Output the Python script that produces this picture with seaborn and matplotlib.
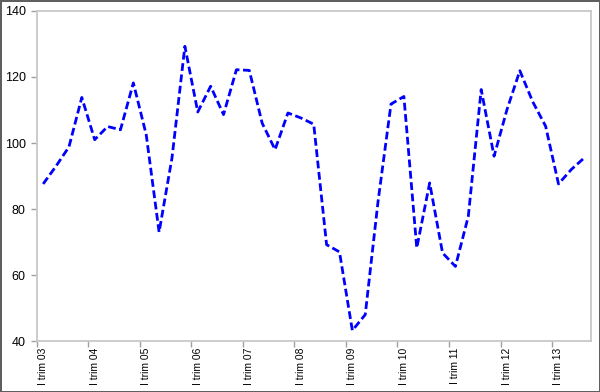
import matplotlib
matplotlib.use("Agg")
import matplotlib.pyplot as plt
import seaborn as sns
import pandas as pd
import numpy as np

years = ["03", "04", "05", "06", "07", "08", "09", "10", "11", "12", "13"]
quarter_tick_labels = ["I trim " + y for y in years]

values = [87.6, 93.0, 98.8, 113.8, 101.0, 105.0, 104.0, 118.2, 102.5, 73.0,
          95.5, 129.3, 109.4, 117.2, 108.6, 122.2, 122.0, 106.0, 98.0, 109.1,
          107.6, 105.7, 69.2, 67.0, 43.2, 48.0, 82.5, 111.8, 114.1, 68.2,
          87.9, 66.7, 62.6, 77.8, 116.2, 96.0, 110.1, 121.9, 112.5, 105.1,
          87.6, 92.0, 95.5]

df = pd.DataFrame({"q": np.arange(len(values)), "v": values})

sns.set_style("white")
plt.rcParams["font.family"] = ["Liberation Sans", "DejaVu Sans"]

fig = plt.figure(figsize=(6.0, 3.92), dpi=100)
fig.patch.set_edgecolor("#5f5f5f")
fig.patch.set_linewidth(2.0)
ax = fig.add_axes([0.0612, 0.130, 0.9233, 0.842])

sns.lineplot(data=df, x="q", y="v", ax=ax, color="#0000FF", linewidth=2.0,
             sort=False)
ax.lines[0].set_dashes((2.8, 1.3))

ax.set_xlim(-0.5, len(values) - 0.5)
ax.set_ylim(40, 140)
ax.set_yticks([40, 60, 80, 100, 120, 140])

n = len(values)
major = np.arange(-0.5, n - 0.5 + 0.01, 4)
ax.set_xticks(major)
ax.set_xticklabels([""] * len(major))
ax.set_xticks(np.arange(0, n, 4), minor=True)
ax.set_xticklabels(quarter_tick_labels, minor=True, rotation=90, fontsize=7.4,
                   va="top", color="black")
ax.tick_params(axis="x", which="major", length=4, width=1, color="#a0a0a0",
               direction="out", bottom=True)
ax.tick_params(axis="x", which="minor", length=0, pad=5, bottom=True)
ax.tick_params(axis="y", length=4, width=1, color="#a0a0a0", direction="out",
               left=True, labelsize=9, pad=4, labelcolor="black")

for s in ["left", "bottom", "top", "right"]:
    ax.spines[s].set_color("#c8c8c8")
    ax.spines[s].set_linewidth(1.3)

ax.set_xlabel("")
ax.set_ylabel("")
ax.grid(False)

fig.savefig("out.png", dpi=100, edgecolor=fig.get_edgecolor())
